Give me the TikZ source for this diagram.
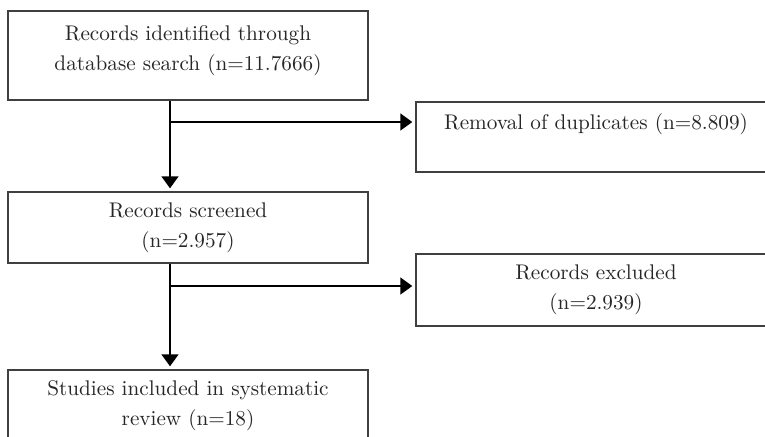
\documentclass[tikz,border=0pt]{standalone}
\usetikzlibrary{arrows.meta}
\begin{document}
\begin{tikzpicture}[x=0.5pt, y=-0.5pt,
  box/.style={draw=black!75, line width=0.7pt, minimum width=180pt, inner sep=0pt,
    align=center, text=black!85, font=\fontsize{10.6}{15}\selectfont},
  arr/.style={-{Triangle[length=6pt,width=8.5pt]}, line width=0.8pt, shorten >=1.5pt}]
\useasboundingbox (0,0) rectangle (765,436);
\clip (0,0) rectangle (765,436);

\node[box, minimum height=44.5pt] (ident) at (188,55.5) {Records identified through\\database search (n=11.7666)\\[-7.5pt]\mbox{}};
\node[box, minimum height=35.5pt] (screen) at (188,227.5) {Records screened\\(n=2.957)};
\node[box, minimum height=36pt] (incl) at (188,406) {Studies included in systematic\\review (n=18)};

\node[box, minimum height=35pt] (remov) at (596,137) {Removal of duplicates (n=8.809)\\\mbox{}};
\node[box, minimum height=36pt] (excl) at (596,290) {Records excluded\\(n=2.939)};

\coordinate (j1) at (170,122);
\coordinate (j2) at (170,286);

\draw[arr] (j1 |- ident.south) -- (j1 |- screen.north);
\draw[arr] (j1) -- (j1 -| remov.west);

\draw[arr] (j2 |- screen.south) -- (j2 |- incl.north);
\draw[arr] (j2) -- (j2 -| excl.west);

\end{tikzpicture}
\end{document}
